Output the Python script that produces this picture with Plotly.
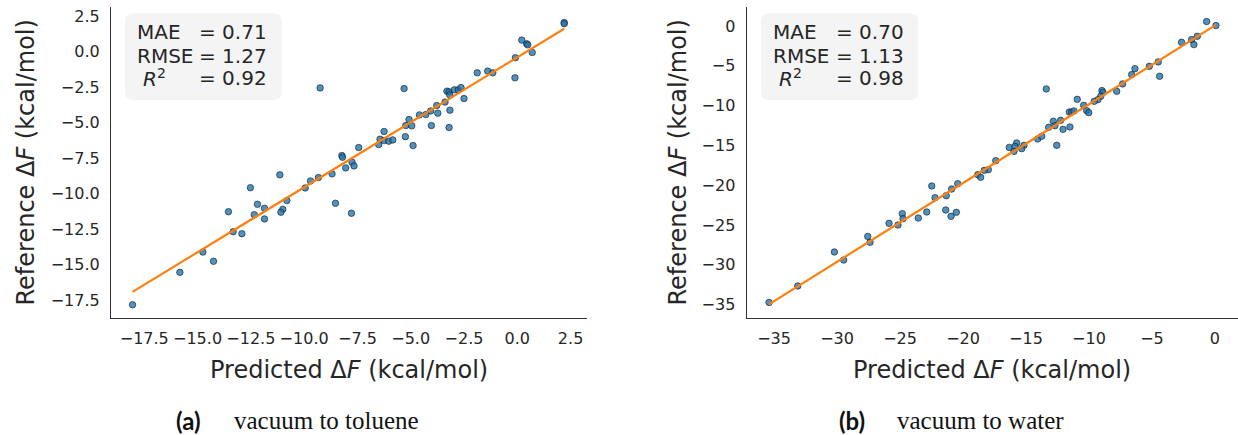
import numpy as np
import plotly.graph_objects as go

# ---------------- data ----------------
tol_pred = [2.20, 2.20, 0.21, 0.44, 0.49, 0.70, -0.09, -0.11, -1.88, -1.39,
            -1.15, -9.25, -5.31, -3.30, -3.20, -2.95, -2.77, -2.64, -3.17, -2.50,
            -3.39, -3.78, -3.16, -4.06, -4.29, -3.73, -4.59, -5.08, -5.23, -4.95,
            -4.03, -3.20, -6.25, -5.25, -4.89, -6.44, -6.25, -6.03, -5.84, -6.50,
            -7.44, -8.23, -8.20, -8.05, -7.75, -7.66, -8.69, -9.33, -9.70, -9.95,
            -11.14, -12.52, -12.19, -11.86, -12.34, -11.86, -13.55, -10.81, -11.00, -11.09,
            -8.53, -7.78, -13.33, -12.92, -14.75, -14.25, -15.83, -18.05]
tol_ref = [2.04, 1.95, 0.80, 0.54, 0.47, -0.07, -0.44, -1.85, -1.50, -1.38,
           -1.50, -2.56, -2.61, -2.79, -2.84, -2.70, -2.70, -2.54, -3.05, -3.31,
           -3.56, -3.80, -4.13, -4.18, -4.44, -4.34, -4.46, -4.79, -5.21, -5.23,
           -5.21, -5.35, -5.63, -5.99, -6.62, -6.17, -6.27, -6.31, -6.22, -6.55,
           -6.76, -7.32, -7.44, -8.19, -7.79, -8.05, -8.61, -8.87, -9.11, -9.60,
           -8.68, -9.58, -10.75, -11.03, -11.48, -11.78, -11.27, -10.49, -11.10, -11.31,
           -10.68, -11.38, -12.68, -12.82, -14.11, -14.76, -15.54, -17.82]

wat_pred = [-0.66, 0.08, -2.65, -1.85, -1.40, -1.67, -5.21, -4.50, -4.39, -6.61,
            -6.35, -7.33, -7.80, -13.39, -8.97, -8.89, -9.07, -9.29, -9.58, -10.93,
            -10.42, -10.18, -10.02, -11.56, -11.37, -11.19, -12.25, -12.83, -12.06, -11.51,
            -13.20, -12.70, -12.56, -14.07, -13.75, -16.33, -15.74, -15.87, -15.16, -15.34,
            -15.95, -17.40, -17.99, -18.31, -18.83, -18.60, -20.42, -20.90, -22.48, -22.22,
            -21.33, -21.37, -20.53, -20.95, -22.88, -23.55, -24.82, -24.76, -25.87, -25.16,
            -27.56, -27.38, -30.21, -29.47, -33.12, -35.40]
wat_ref = [0.57, 0.06, -2.04, -1.70, -1.28, -2.33, -5.06, -4.50, -6.31, -6.10,
           -5.35, -7.27, -8.20, -7.90, -8.11, -8.33, -8.83, -9.25, -9.46, -9.21,
           -9.96, -10.63, -10.88, -10.80, -10.80, -10.67, -11.85, -11.97, -12.98, -12.68,
           -12.73, -12.52, -14.99, -14.19, -13.86, -15.25, -14.69, -15.12, -14.99, -15.41,
           -15.75, -16.92, -18.05, -18.14, -18.68, -19.01, -19.81, -20.48, -20.10, -21.57,
           -21.32, -23.12, -23.42, -23.92, -23.37, -24.13, -23.58, -24.21, -24.80, -25.01,
           -26.44, -27.19, -28.40, -29.41, -32.68, -34.74]

tol_stats = ["0.71", "1.27", "0.92"]
wat_stats = ["0.70", "1.13", "0.98"]
stat_labels = ["MAE", "RMSE", "<i>R</i><sup>2</sup>"]

tol_xticks = [-17.5, -15.0, -12.5, -10.0, -7.5, -5.0, -2.5, 0.0, 2.5]
tol_yticks = [-17.5, -15.0, -12.5, -10.0, -7.5, -5.0, -2.5, 0.0, 2.5]
wat_xticks = [-35, -30, -25, -20, -15, -10, -5, 0]
wat_yticks = [-35, -30, -25, -20, -15, -10, -5, 0]

captions = [("(a)", "vacuum to toluene"), ("(b)", "vacuum to water")]
x_title = "Predicted Δ<i>F</i> (kcal/mol)"
y_title = "Reference Δ<i>F</i> (kcal/mol)"

# ---------------- helpers ----------------
W, H = 1238, 435
FONT = "DejaVu Sans"
TXT = "#262626"


def px(x):
    return x / W


def py(y):
    return 1 - y / H


def fmt(v, dec):
    return f"{v:.{dec}f}".replace("-", "\u2212")


def rrect(x0, y0, x1, y1, r):
    P = lambda x, y: f"{px(x):.5f},{py(y):.5f}"
    return (f"M {P(x0 + r, y0)} L {P(x1 - r, y0)} Q {P(x1, y0)} {P(x1, y0 + r)} "
            f"L {P(x1, y1 - r)} Q {P(x1, y1)} {P(x1 - r, y1)} "
            f"L {P(x0 + r, y1)} Q {P(x0, y1)} {P(x0, y1 - r)} "
            f"L {P(x0, y0 + r)} Q {P(x0, y0)} {P(x0 + r, y0)} Z")


fig = go.Figure()

panels = [
    (tol_pred, tol_ref, "x", "y"),
    (wat_pred, wat_ref, "x2", "y2"),
]
for pred, ref, xa, ya in panels:
    fig.add_trace(go.Scatter(
        x=pred, y=ref, mode="markers", xaxis=xa, yaxis=ya, showlegend=False,
        marker=dict(size=6.5, color="rgba(31,119,180,0.8)",
                    line=dict(color="rgba(20,20,20,0.85)", width=0.7))))
    slope, icpt = np.polyfit(pred, ref, 1)
    xs = np.array([min(pred), max(pred)])
    fig.add_trace(go.Scatter(
        x=xs, y=slope * xs + icpt, mode="lines", xaxis=xa, yaxis=ya,
        showlegend=False, line=dict(color="#ff7f0e", width=2.2)))

ydom = [py(318), py(7)]
common = dict(showgrid=False, zeroline=False, showline=True, linecolor="#333333",
              linewidth=1.25, ticks="", tickfont=dict(family=FONT, size=16, color=TXT),
              mirror=False, tickmode="array")

fig.update_layout(
    width=W, height=H, margin=dict(l=0, r=0, t=0, b=0),
    paper_bgcolor="white", plot_bgcolor="white",
    font=dict(family=FONT, color=TXT),
    xaxis=dict(domain=[px(111), px(587)], range=[-19.06, 3.27], anchor="y",
               tickvals=tol_xticks, ticktext=[fmt(v, 1) for v in tol_xticks],
               ticklabelstandoff=6, **common),
    yaxis=dict(domain=ydom, range=[-18.75, 3.13], anchor="x",
               tickvals=tol_yticks, ticktext=[fmt(v, 1) for v in tol_yticks],
               ticklabelstandoff=7, **common),
    xaxis2=dict(domain=[px(746.7), 1.0], range=[-37.17, 1.83], anchor="y2",
                tickvals=wat_xticks, ticktext=[fmt(v, 0) for v in wat_xticks],
                ticklabelstandoff=6, **common),
    yaxis2=dict(domain=ydom, range=[-36.7, 2.4], anchor="x2",
                tickvals=wat_yticks, ticktext=[fmt(v, 0) for v in wat_yticks],
                ticklabelstandoff=7, **common),
)

shapes = []
annotations = []

# stats boxes
box_specs = [
    (125, 281.7, 136, 141.7, 198, tol_stats),
    (761, 918.3, 772, 778, 835, wat_stats),
]
row_y = [32.3, 55.7, 78.3]
for bx0, bx1, lab_x, r_x, val_x, stats in box_specs:
    shapes.append(dict(type="path", path=rrect(bx0, 13.3, bx1, 100, 8),
                       xref="paper", yref="paper", fillcolor="#f4f4f4",
                       line=dict(width=0), layer="above"))
    for i, (lab, val) in enumerate(zip(stat_labels, stats)):
        annotations.append(dict(text=lab, x=px(r_x if i == 2 else lab_x), y=py(row_y[i]),
                                xref="paper", yref="paper", xanchor="left", yanchor="middle",
                                showarrow=False, borderpad=0, height=22,
                                font=dict(family=FONT, size=20, color=TXT)))
        annotations.append(dict(text="= " + val, x=px(val_x), y=py(row_y[i]),
                                xref="paper", yref="paper", xanchor="left", yanchor="middle",
                                showarrow=False, borderpad=0, height=22,
                                font=dict(family=FONT, size=20, color=TXT)))

# axis titles
for cx in [349, 992]:
    annotations.append(dict(text=x_title, x=px(cx), y=py(370), xref="paper", yref="paper",
                            xanchor="center", yanchor="middle", showarrow=False,
                            font=dict(family=FONT, size=24, color=TXT)))
for cx in [25, 677]:
    annotations.append(dict(text=y_title, x=px(cx), y=py(162.5), xref="paper", yref="paper",
                            xanchor="center", yanchor="middle", showarrow=False, textangle=-90,
                            font=dict(family=FONT, size=24, color=TXT)))

# captions
cap_pos = [(175, 233), (838, 896)]
for (lab, txt), (lx, tx) in zip(captions, cap_pos):
    annotations.append(dict(text=f"<b>{lab}</b>", x=px(lx), y=py(420), xref="paper", yref="paper",
                            xanchor="left", yanchor="middle", showarrow=False, borderpad=0,
                            font=dict(family="Lato", size=24, color="#111111")))
    annotations.append(dict(text=txt, x=px(tx), y=py(420), xref="paper", yref="paper",
                            xanchor="left", yanchor="middle", showarrow=False, borderpad=0,
                            font=dict(family="Liberation Serif", size=25, color="#111111")))

fig.update_layout(shapes=shapes, annotations=annotations)

fig.write_html("out.html", config={"displayModeBar": False},
               post_script="document.body.style.margin='0';document.body.style.overflow='hidden';")
